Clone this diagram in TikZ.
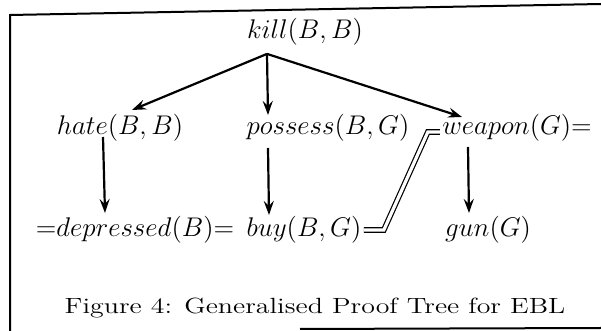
\documentclass[tikz,border=0pt]{standalone}
\usetikzlibrary{arrows.meta}
\newcommand{\tm}[1]{\scalebox{1.125}{$#1$}}
\begin{document}
\begin{tikzpicture}[x=0.5pt, y=-0.5pt,
  term/.style={inner sep=1pt, font=\fontsize{12}{14}\selectfont},
  arr/.style={-{Stealth[length=7pt,width=5pt,inset=2.5pt]}, line width=1.1pt},
  eq/.style={double, double distance=1.6pt, line width=0.6pt}]
 \useasboundingbox (0,0) rectangle (601,331);
 % Rahmen
 \draw[line width=1pt] (10,331) -- (10,15) -- (601,4);
 \draw[line width=1pt] (300,329) -- (601,328);

 % Terme des Beweisbaums
 \node[term] (kill) at (305,32) {\tm{kill(B,B)}};
 \node[term] (hate) at (120,128) {\tm{hate(B,B)}};
 \node[term] (possess) at (328,128) {\tm{possess(B,G)}};
 \node[term] (weapon) at (517,128) {\tm{weapon(G){=}}};
 \node[term] (depr) at (135,230) {\tm{{=}depressed(B){=}}};
 \node[term] (buy) at (304,230) {\tm{buy(B,G)}};
 \node[term] (gun) at (488,230) {\tm{gun(G)}};
 \coordinate (root) at ([xshift=-19pt,yshift=-3pt]kill.south);

 % Pfeile
 \draw[arr] (root) -- ([xshift=6pt,yshift=9pt]hate.center);
 \draw[arr] (root) -- ([xshift=-30pt,yshift=6.5pt]possess.center);
 \draw[arr] (root) -- ([xshift=-27.5pt,yshift=5.5pt]weapon.center);
 \draw[arr] ([xshift=-8.5pt,yshift=-4.5pt]hate.center) -- ([xshift=-15pt,yshift=8.5pt]depr.center);
 \draw[arr] ([xshift=-30pt,yshift=-10pt]possess.center) -- ([xshift=-17.5pt,yshift=7.5pt]buy.center);
 \draw[arr] ([xshift=-24.5pt,yshift=-9.5pt]weapon.center) -- ([xshift=-9.5pt,yshift=8.5pt]gun.center);
 \draw[eq] (buy.east) -- ++(10pt,0) -- ([xshift=-6pt,yshift=-2pt]weapon.west) -- ([yshift=-2pt]weapon.west);

 % Bildunterschrift
 \node (cap) at (315,308) {\scalebox{1.27}[1]{\fontsize{11}{13}\selectfont Figure 4: Generalised Proof Tree for EBL}};
\end{tikzpicture}
\end{document}
